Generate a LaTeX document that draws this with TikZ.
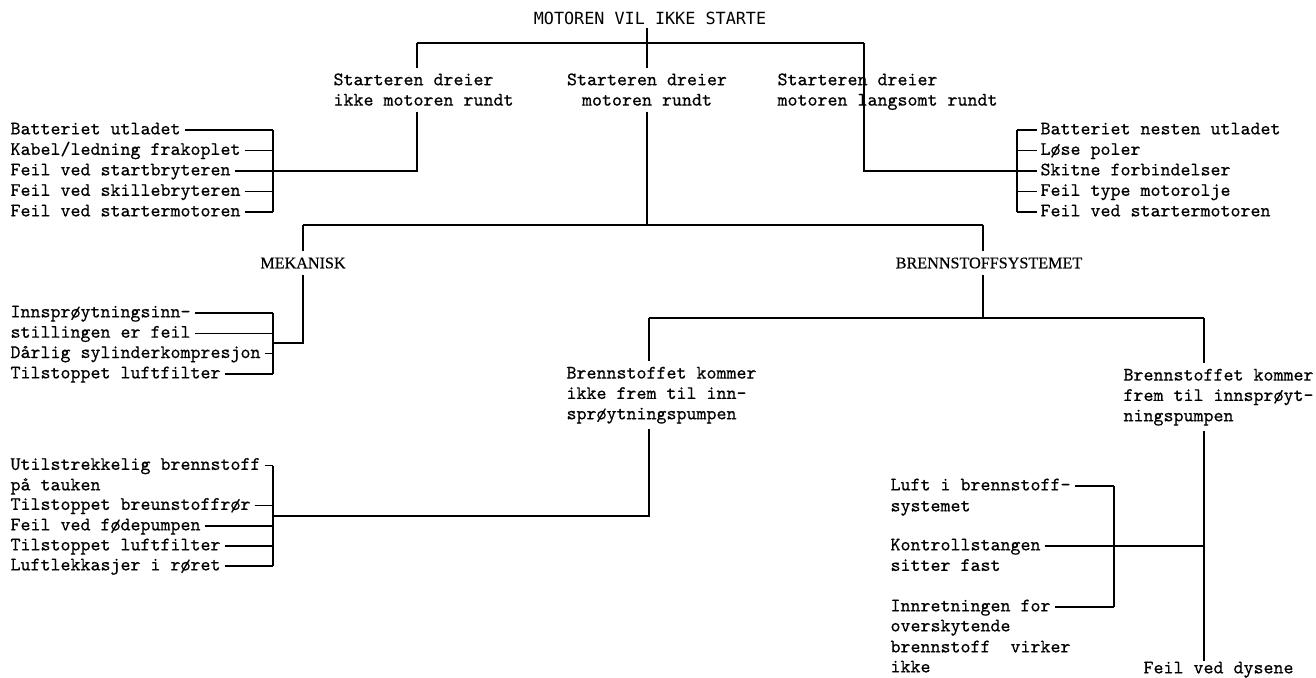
\documentclass[tikz,border=0pt]{standalone}
\usepackage{fontspec}
\newfontfamily\titlefont{DejaVu Sans Mono}
\newfontfamily\headfont[FakeBold=0.4]{Liberation Serif}
\newfontfamily\typefont[FakeBold=0.5]{Latin Modern Mono}
\newcommand{\causefont}{\typefont\fontsize{10.84}{11.6}\selectfont}
\tikzset{
    faultLine/.style={line width=0.6pt, black},
    titleBox/.style={font=\titlefont\fontsize{9.55}{11}\selectfont, inner sep=2pt},
    faultHead/.style={font=\headfont\fontsize{9.2}{11}\selectfont, inner xsep=2pt, inner ysep=3.5pt},
    faultBlock/.style={font=\causefont, align=left, inner xsep=2pt, inner ysep=3pt},
    faultItem/.style={font=\causefont, anchor=west, inner xsep=2pt, inner ysep=0pt,
        text height=7pt, text depth=2pt},
}

\begin{document}
\begin{tikzpicture}[x=0.02cm, y=-0.02cm, faultLine]
    \useasboundingbox (0,0) rectangle (1316,677);

    % TOP: MAIN FAULT AND THE THREE STARTER CASES
    \node[titleBox] (title) at (650,18) {MOTOREN VIL IKKE STARTE};
    \coordinate (jA) at (417,43);
    \coordinate (jC) at (864,43);
    \draw[faultLine] (jA) -- (jC);

    \node[faultBlock, anchor=north west] (noTurn) at (329.5,67.6) {Starteren dreier\\ikke motoren rundt};
    \node[faultBlock, align=center, anchor=north] (turns) at (647,67.6) {Starteren dreier\\motoren rundt};
    \node[faultBlock, anchor=north west] (slowTurn) at (773.5,67.6) {Starteren dreier\\motoren langsomt rundt};

    \draw[faultLine] (title.south -| turns.north) -- (turns.north);

    % LEFT: STARTER DOES NOT TURN
    \node[faultItem] (bat) at (6.5,130) {Batteriet utladet};
    \node[faultItem] (cable) at (6.5,150.5) {Kabel/ledning frakoplet};
    \node[faultItem] (startSw) at (6.5,171) {Feil ved startbryteren};
    \node[faultItem] (isoSw) at (6.5,191.5) {Feil ved skillebryteren};
    \node[faultItem] (motorL) at (6.5,212) {Feil ved startermotoren};
    \coordinate (brA) at (273,171);

    \draw[faultLine] (jA) -- (jA |- noTurn.north);
    \draw[faultLine] (jA |- noTurn.south) |- (brA);
    \draw[faultLine] (bat.east -| brA) -- (motorL.east -| brA);
    \draw[faultLine] (bat.east) -- (bat.east -| brA)
        (cable.east) -- (cable.east -| brA)
        (startSw.east) -- (startSw.east -| brA)
        (isoSw.east) -- (isoSw.east -| brA)
        (motorL.east) -- (motorL.east -| brA);

    % RIGHT: STARTER TURNS SLOWLY
    \node[faultItem] (batLow) at (1036.5,130) {Batteriet nesten utladet};
    \node[faultItem] (poles) at (1036.5,150.5) {Løse poler};
    \node[faultItem] (dirty) at (1036.5,171) {Skitne forbindelser};
    \node[faultItem] (oil) at (1036.5,191.5) {Feil type motorolje};
    \node[faultItem] (motorR) at (1036.5,212) {Feil ved startermotoren};
    \coordinate (brC) at (1017,171);

    \draw[faultLine] (jC) |- (brC);
    \draw[faultLine] (batLow.west -| brC) -- (motorR.west -| brC);
    \draw[faultLine] (batLow.west -| brC) -- (batLow.west)
        (poles.west -| brC) -- (poles.west)
        (dirty.west -| brC) -- (dirty.west)
        (oil.west -| brC) -- (oil.west)
        (motorR.west -| brC) -- (motorR.west);

    % MIDDLE: STARTER TURNS THE ENGINE
    \coordinate (jB) at (303,225);
    \coordinate (jD) at (983,225);
    \draw[faultLine] (turns.south) -- (turns.south |- jB);
    \draw[faultLine] (jB) -- (jD);

    % MECHANICAL
    \node[faultHead] (mech) at (303,263) {MEKANISK};
    \draw[faultLine] (jB) -- (mech.north);

    \node[faultItem] (inject) at (6.5,313) {Innsprøytningsinn-};
    \node[faultItem] (injectB) at (6.5,333.3) {stillingen er feil};
    \node[faultItem] (comp) at (6.5,353.6) {Dårlig sylinderkompresjon};
    \node[faultItem] (airM) at (6.5,374) {Tilstoppet luftfilter};
    \coordinate (brB) at (273,343);

    \draw[faultLine] (mech.south) |- (brB);
    \draw[faultLine] (inject.east -| brB) -- (airM.east -| brB);
    \draw[faultLine] (inject.east) -- (inject.east -| brB)
        (injectB.east) -- (injectB.east -| brB)
        (comp.east) -- (comp.east -| brB)
        (airM.east) -- (airM.east -| brB);

    % FUEL SYSTEM
    \node[faultHead] (fuel) at (989,263) {BRENNSTOFFSYSTEMET};
    \coordinate (jE) at (649,318);
    \coordinate (jF) at (1204,318);
    \draw[faultLine] (jD) -- (jD |- fuel.north);
    \draw[faultLine] (jD |- fuel.south) -- (jD |- jE);
    \draw[faultLine] (jE) -- (jF);

    % no fuel to the injection pump
    \node[faultBlock, anchor=north west] (noFuel) at (562.5,361) {Brennstoffet kommer\\ikke frem til inn-\\sprøytningspumpen};
    \draw[faultLine] (jE) -- (jE |- noFuel.north);

    \node[faultItem] (tank) at (6.5,465.5) {Utilstrekkelig brennstoff};
    \node[faultItem] (tankB) at (6.5,486) {på tauken};
    \node[faultItem] (pipe) at (6.5,505.5) {Tilstoppet breunstoffrør};
    \node[faultItem] (feedPump) at (6.5,526) {Feil ved fødepumpen};
    \node[faultItem] (airD) at (6.5,546) {Tilstoppet luftfilter};
    \node[faultItem] (leak) at (6.5,566) {Luftlekkasjer i røret};
    \coordinate (brD) at (273,516);

    \draw[faultLine] (jE |- noFuel.south) |- (brD);
    \draw[faultLine] (tank.east -| brD) -- (leak.east -| brD);
    \draw[faultLine] (tank.east) -- (tank.east -| brD)
        (pipe.east) -- (pipe.east -| brD)
        (feedPump.east) -- (feedPump.east -| brD)
        (airD.east) -- (airD.east -| brD)
        (leak.east) -- (leak.east -| brD);

    % fuel reaches the injection pump
    \node[faultBlock, anchor=north west] (fuelOk) at (1119.5,363) {Brennstoffet kommer\\frem til innsprøyt-\\ningspumpen};
    \node[faultItem] (nozzle) at (1139.5,669) {Feil ved dysene};
    \draw[faultLine] (jF) -- (jF |- fuelOk.north);
    \draw[faultLine] (jF |- fuelOk.south) -- (jF |- nozzle.north);

    \node[faultItem] (airIn) at (886.5,486) {Luft i brennstoff-};
    \node[faultItem] (airInB) at (886.5,507) {systemet};
    \node[faultItem] (rod) at (886.5,546) {Kontrollstangen};
    \node[faultItem] (rodB) at (886.5,566.5) {sitter fast};
    \node[faultItem] (excess) at (886.5,607) {Innretningen for};
    \node[faultItem] (excessB) at (886.5,627) {overskytende};
    \node[faultItem] (excessC) at (886.5,648) {brennstoff\ \ virker};
    \node[faultItem] (excessD) at (886.5,668) {ikke};
    \coordinate (brE) at (1114,546);

    \draw[faultLine] (rod.east) -- (rod.east -| jF);
    \draw[faultLine] (airIn.east -| brE) -- (excess.east -| brE);
    \draw[faultLine] (airIn.east) -- (airIn.east -| brE)
        (excess.east) -- (excess.east -| brE);

\end{tikzpicture}
\end{document}
